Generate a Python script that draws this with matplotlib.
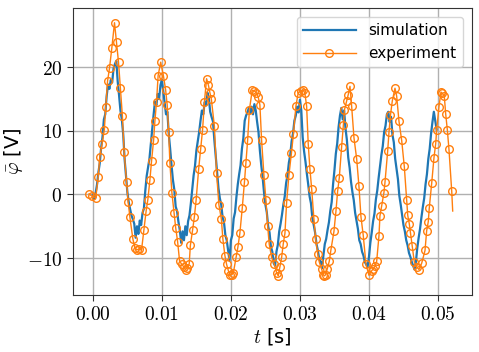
import matplotlib
matplotlib.use("Agg")
import matplotlib.pyplot as plt
from matplotlib.ticker import FuncFormatter

plt.rcParams['mathtext.fontset'] = 'cm'

# simulation: sampled every 0.2 ms from t = 0
sim_t0 = 0.0
sim_dt = 0.0002
sim_v = [
    0.0, -0.7, 0.2, 1.5, 3.4, 4.9, 7.3, 9.0, 11.8, 12.6,
    15.4, 17.3, 16.6, 18.0, 17.6, 19.8, 20.5, 21.0, 17.8, 15.6,
    13.2, 11.8, 9.5, 5.6, 3.0, 0.4, -1.2, -2.3, -3.3, -3.9,
    -4.6, -6.8, -5.0, -6.2, -4.1, -4.8, -2.9, -2.2, 0.6, 2.9,
    4.2, 5.6, 7.9, 10.2, 12.5, 14.6, 14.0, 15.8, 15.0, 17.2,
    18.0, 16.3, 14.4, 12.6, 13.0, 9.5, 7.2, 4.6, 2.3, 0.8,
    -1.9, -2.6, -4.3, -5.6, -7.6, -5.8, -7.2, -5.0, -6.4, -4.2,
    -3.3, -1.4, 0.8, 3.0, 4.5, 6.9, 8.4, 9.8, 11.6, 13.2,
    12.6, 14.5, 14.0, 16.0, 15.2, 13.0, 12.2, 11.5, 8.6, 6.0,
    3.6, 1.0, -0.6, -1.6, -3.6, -4.4, -6.4, -7.2, -8.8, -10.4,
    -7.2, -6.4, -3.8, -2.8, -0.4, 1.6, 3.2, 4.6, 7.2, 8.8,
    11.6, 12.4, 12.9, 13.6, 12.8, 13.8, 12.6, 14.2, 13.2, 11.4,
    9.8, 6.9, 4.6, 2.7, 0.3, -1.6, -2.8, -5.0, -6.0, -8.2,
    -9.0, -10.8, -11.2, -9.0, -7.9, -5.8, -4.6, -3.2, -1.6, -0.3,
    1.8, 3.0, 5.0, 6.2, 8.4, 9.6, 11.6, 12.4, 13.8, 12.9,
    14.9, 13.2, 9.0, 6.8, 5.2, 3.3, 1.6, -0.3, -1.4, -3.7,
    -4.8, -6.0, -7.8, -8.8, -10.2, -10.6, -11.6, -9.6, -7.8, -7.0,
    -5.6, -4.4, -2.6, -1.2, 1.6, 3.8, 6.4, 8.0, 10.6, 12.4,
    13.6, 11.8, 13.2, 10.4, 8.6, 5.8, 4.2, 2.0, 0.4, -0.9,
    -2.9, -4.2, -5.4, -7.2, -7.8, -9.0, -9.6, -10.6, -11.0, -11.4,
    -9.8, -7.6, -6.0, -4.2, -3.0, -0.8, 0.6, 2.6, 4.4, 6.2,
    7.6, 9.8, 10.8, 12.6, 13.0, 11.4, 12.2, 9.4, 8.2, 5.6,
    4.0, 2.4, -0.2, -1.6, -3.2, -4.8, -5.8, -7.2, -8.0, -9.2,
    -9.8, -10.6, -11.2, -11.8, -10.6, -8.4, -6.8, -5.4, -3.6, -2.0,
    -0.6, 1.6, 3.2, 5.6, 7.2, 9.6, 11.4, 13.0, 11.6, 10.2,
]
sim_t = [sim_t0 + i * sim_dt for i in range(len(sim_v))]

# experiment
exp_t = [
    -0.00054, -0.00010, 0.00043, 0.00077, 0.00101, 0.00135, 0.00167, 0.00188, 0.00213, 0.00242,
    0.00275, 0.00314, 0.00343, 0.00372, 0.00399, 0.00428, 0.00454, 0.00488, 0.00512, 0.00536,
    0.00580, 0.00609, 0.00633, 0.00667, 0.00706, 0.00739, 0.00772, 0.00797, 0.00826, 0.00851,
    0.00880, 0.00899, 0.00923, 0.00946, 0.00983, 0.01022, 0.01054, 0.01077, 0.01099, 0.01116,
    0.01145, 0.01177, 0.01200, 0.01228, 0.01257, 0.01290, 0.01319, 0.01343, 0.01370, 0.01396,
    0.01413, 0.01445, 0.01471, 0.01497, 0.01533, 0.01562, 0.01590, 0.01616, 0.01648, 0.01674,
    0.01696, 0.01717, 0.01761, 0.01793, 0.01826, 0.01862, 0.01884, 0.01913, 0.01938, 0.01964,
    0.01990, 0.02014, 0.02036, 0.02075, 0.02101, 0.02130, 0.02164, 0.02196, 0.02217, 0.02243,
    0.02268, 0.02309, 0.02336, 0.02370, 0.02396, 0.02420, 0.02445, 0.02478, 0.02507, 0.02532,
    0.02555, 0.02590, 0.02630, 0.02662, 0.02686, 0.02710, 0.02735, 0.02758, 0.02783, 0.02807,
    0.02841, 0.02877, 0.02906, 0.02942, 0.02975, 0.03019, 0.03043, 0.03072, 0.03097, 0.03120,
    0.03145, 0.03170, 0.03203, 0.03228, 0.03257, 0.03280, 0.03314, 0.03338, 0.03355, 0.03372,
    0.03396, 0.03425, 0.03449, 0.03493, 0.03522, 0.03546, 0.03570, 0.03604, 0.03630, 0.03645,
    0.03677, 0.03700, 0.03725, 0.03749, 0.03783, 0.03822, 0.03855, 0.03884, 0.03917, 0.03957,
    0.04000, 0.04039, 0.04062, 0.04087, 0.04112, 0.04145, 0.04159, 0.04184, 0.04217, 0.04232,
    0.04271, 0.04290, 0.04312, 0.04338, 0.04377, 0.04401, 0.04435, 0.04474, 0.04512, 0.04546,
    0.04562, 0.04584, 0.04601, 0.04627, 0.04657, 0.04691, 0.04725, 0.04764, 0.04812, 0.04836,
    0.04859, 0.04874, 0.04909, 0.04942, 0.04967, 0.04981, 0.05014, 0.05043, 0.05062, 0.05091,
    0.05112, 0.05135, 0.05159, 0.05199, 0.05213,
]
exp_v = [
    0.1, -0.3, -0.5, 2.7, 5.9, 8.0, 10.2, 13.8, 17.8, 19.9,
    23.0, 27.0, 23.9, 20.8, 16.7, 12.4, 6.6, 1.9, -1.2, -3.5,
    -7.0, -8.4, -8.7, -8.6, -8.7, -5.6, -2.6, -0.8, 2.2, 5.3,
    8.5, 11.5, 14.6, 18.7, 20.8, 18.7, 16.5, 14.1, 9.8, 5.0,
    0.3, -2.9, -5.2, -7.4, -10.5, -11.0, -11.4, -11.8, -11.5, -10.9,
    -8.0, -5.6, -3.5, -0.8, 4.0, 7.1, 10.2, 14.5, 18.2, 17.2,
    16.0, 15.0, 10.7, 3.3, -1.6, -3.9, -7.0, -9.6, -11.0, -12.0,
    -12.6, -12.6, -12.3, -9.9, -8.3, -6.1, -2.2, 1.9, 4.9, 8.6,
    13.3, 16.4, 16.3, 16.0, 15.3, 14.1, 8.5, 3.1, -0.8, -4.9,
    -7.8, -9.9, -11.0, -12.3, -12.8, -11.4, -9.9, -7.8, -6.1, -1.3,
    3.1, 6.5, 9.5, 13.9, 16.0, 16.3, 16.5, 15.9, 13.9, 8.0,
    4.0, 0.9, -3.9, -7.0, -9.3, -10.6, -11.7, -12.6, -12.8, -12.6,
    -11.7, -10.5, -8.7, -5.8, -2.6, 0.5, 2.6, 7.5, 11.0, 13.3,
    14.7, 15.7, 17.0, 13.9, 8.9, 5.6, 1.3, -3.5, -6.4, -11.0,
    -12.7, -12.0, -11.7, -11.3, -10.5, -6.5, -3.4, -1.8, 0.3, 1.9,
    6.8, 9.8, 12.5, 14.7, 16.7, 15.5, 11.5, 8.5, 4.4, -0.8,
    -3.3, -4.6, -6.0, -8.1, -10.6, -11.4, -11.8, -10.8, -8.8, -5.7,
    -4.3, -2.1, 1.8, 5.8, 8.0, 10.2, 13.8, 16.1, 15.9, 15.5,
    12.6, 10.2, 7.1, 0.5, -2.6,
]

fig, ax = plt.subplots(figsize=(4.79, 3.52), dpi=100)
fig.subplots_adjust(left=0.152, right=0.985, top=0.977, bottom=0.162)

ax.plot(sim_t, sim_v, color='#1f77b4', linewidth=1.6, label='simulation')
ax.plot(exp_t, exp_v, color='#ff7f0e', linewidth=1.0, marker='o', markersize=5.5,
        markerfacecolor='none', markeredgewidth=1.0,
        markevery=list(range(len(exp_v) - 1)), label='experiment')

ax.set_xlim(-0.0029, 0.0549)
ax.set_ylim(-15.8, 29.3)
ax.set_xticks([0.0, 0.01, 0.02, 0.03, 0.04, 0.05])
ax.set_yticks([-10, 0, 10, 20])
ax.xaxis.set_major_formatter(FuncFormatter(lambda x, p: '$%.2f$' % x))
ax.yaxis.set_major_formatter(FuncFormatter(lambda y, p: '$%d$' % round(y)))
ax.tick_params(labelsize=14, length=4, color='#333333')
ax.grid(True, color='#b0b0b0', linewidth=1.0)
ax.set_axisbelow(True)
for s in ax.spines.values():
    s.set_color('#333333')

ax.set_xlabel(r'$t$ [s]', fontsize=14, labelpad=1)
ax.set_ylabel(r'$\bar{\varphi}$ [V]', fontsize=14, labelpad=1)

ax.legend(loc='upper right', fontsize=11, handlelength=3.5, borderaxespad=0.6)

fig.savefig('out.png', dpi=100)
